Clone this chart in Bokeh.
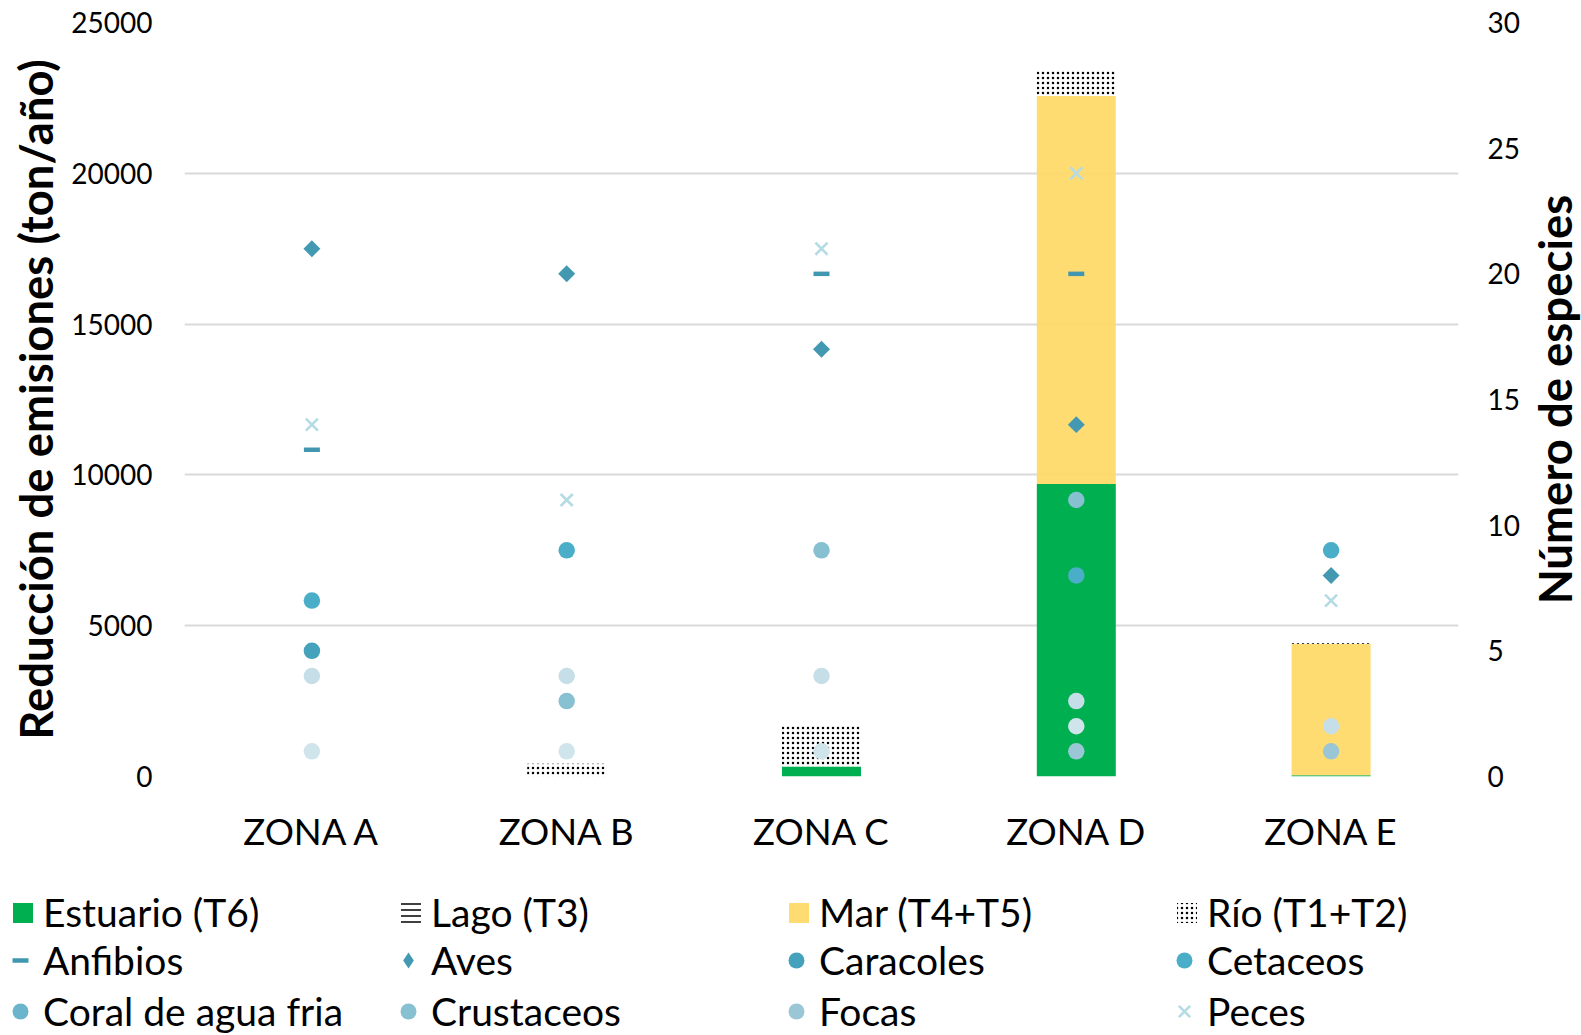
import math
from bokeh.plotting import figure
from bokeh.layouts import row
from bokeh.models import (Range1d, LinearAxis, FixedTicker, Legend, LegendItem,
                          FactorRange, ColumnDataSource, Title)
from bokeh.embed import file_html
from bokeh.resources import INLINE

# ---------------- data ----------------
zonas = ["ZONA A", "ZONA B", "ZONA C", "ZONA D", "ZONA E"]

# emission reduction (ton/año), stacked bars
estuario = [0, 0, 330, 9700, 40]
lago = [0, 0, 0, 0, 0]
mar = [0, 0, 0, 12860, 4350]
rio = [0, 420, 1380, 830, 25]

# number of species (right axis)
nan = float("nan")
anfibios = [13, nan, 20, 20, nan]
aves = [21, 20, 17, 14, 8]
caracoles = [5, nan, nan, nan, nan]
cetaceos = [7, 9, nan, 8, 9]
coral = [nan, nan, nan, nan, nan]
crustaceos = [nan, 3, 9, 11, nan]
focas = [nan, nan, nan, 1, 1]
peces = [14, 11, 21, 24, 7]
otras_1 = [4, 4, 4, 3, 2]
otras_2 = [1, 1, 1, 2, nan]

left_ticks = [0, 5000, 10000, 15000, 20000, 25000]
right_ticks = [0, 5, 10, 15, 20, 25, 30]

FONT = "Lato"

# ---------------- styles ----------------
bar_names = ["estuario", "lago", "mar", "rio"]
bar_labels = ["Estuario (T6)", "Lago (T3)", "Mar (T4+T5)", "Río (T1+T2)"]
bar_style = dict(
    fill_color=["#00b050", "white", "#ffd966", "white"],
    fill_alpha=[1, 1, 0.93, 1],
    hatch_pattern=[None, "horizontal_line", None, "dot"],
    hatch_scale=[1, 6, 1, 5],
    hatch_weight=[1, 1.5, 1, 2.2],
)
sp_series = [
    ("Anfibios", anfibios, dict(marker="dash", size=16, line_color="#4197b0", line_width=4.5)),
    ("Aves", aves, dict(marker="square", angle=math.pi / 4, size=12, fill_color="#4399b2", line_color=None)),
    ("Caracoles", caracoles, dict(marker="circle", size=16.5, fill_color="#44a2bc", line_color=None)),
    ("Cetaceos", cetaceos, dict(marker="circle", size=16.5, fill_color="#4aaec8", line_color=None)),
    ("Coral de agua fria", coral, dict(marker="circle", size=16.5, fill_color="#6ab5cc", line_color=None)),
    ("Crustaceos", crustaceos, dict(marker="circle", size=16.5, fill_color="#86c0d1", line_color=None)),
    ("Focas", focas, dict(marker="circle", size=16.5, fill_color="#9ac6d5", line_color=None)),
    ("Peces", peces, dict(marker="x", size=17, line_color="#b5dbe5", line_width=2.6)),
]
extra_series = [
    (otras_1, dict(marker="circle", size=16.5, fill_color="#c5dee7", line_color=None)),
    (otras_2, dict(marker="circle", size=16.5, fill_color="#d0e4eb", line_color=None)),
]

TOP, FRAME_H, BOTTOM = 22, 754, 88

# ---------------- main figure ----------------
p = figure(x_range=FactorRange(factors=zonas, range_padding=0),
           y_range=Range1d(0, 25000),
           frame_width=1274, frame_height=FRAME_H,
           min_border_left=184, min_border_right=66,
           min_border_top=TOP, min_border_bottom=BOTTOM,
           output_backend="svg", toolbar_location=None)
p.extra_y_ranges = {"sp": Range1d(0, 30)}
p.outline_line_color = None

src = ColumnDataSource(dict(zonas=zonas, estuario=estuario, lago=lago, mar=mar, rio=rio))
p.vbar_stack(bar_names, x="zonas", width=0.31, source=src, line_color=None,
             hatch_color="black", **bar_style)

for name, vals, st in sp_series:
    p.scatter("x", "y", source=ColumnDataSource(dict(x=zonas, y=vals)), y_range_name="sp", **st)
for vals, st in extra_series:
    p.scatter("x", "y", source=ColumnDataSource(dict(x=zonas, y=vals)), y_range_name="sp", **st)

p.xgrid.visible = False
p.ygrid.ticker = FixedTicker(ticks=left_ticks)
p.ygrid.grid_line_color = "#d9d9d9"
p.ygrid.grid_line_width = 2

yl = p.yaxis[0]
yl.ticker = FixedTicker(ticks=left_ticks)
yl.axis_label = "Reducción de emisiones (ton/año)"
yl.axis_label_standoff = 5
yl.major_label_standoff = 26
yl.axis_label_text_font = FONT
yl.axis_label_text_font_style = "bold"
yl.axis_label_text_font_size = "45.5px"
yl.axis_label_text_color = "black"

yr = LinearAxis(y_range_name="sp", ticker=FixedTicker(ticks=right_ticks))
yr.major_label_standoff = 23
p.add_layout(yr, "right")

for ax in (yl, yr):
    ax.major_label_text_font = FONT
    ax.major_label_text_font_size = "28px"
    ax.major_label_text_color = "black"

xa = p.xaxis[0]
xa.major_label_text_font = FONT
xa.major_label_text_font_size = "36.5px"
xa.major_label_text_color = "black"
xa.major_label_standoff = 26

for ax in (yl, yr, xa):
    ax.axis_line_color = None
    ax.major_tick_line_color = None
    ax.minor_tick_line_color = None

# right-hand axis title (reads bottom-to-top, like the left one)
rt = figure(frame_width=1, frame_height=FRAME_H,
            min_border_left=0, min_border_right=0,
            min_border_top=TOP, min_border_bottom=BOTTOM,
            x_range=Range1d(0, 1), y_range=Range1d(0, 1),
            x_axis_location=None, y_axis_location=None,
            output_backend="svg", toolbar_location=None)
rt.grid.visible = False
rt.outline_line_color = None
rt.background_fill_alpha = 0
rt.border_fill_alpha = 0
rt.add_layout(Title(text="Número de especies", align="center", standoff=0,
                    text_font=FONT, text_font_size="45.5px", text_font_style="bold",
                    text_color="black"), "left")

# ---------------- legend figure ----------------
lg = figure(width=1570, height=171, x_range=Range1d(0, 1), y_range=Range1d(0, 1),
            min_border=0, x_axis_location=None, y_axis_location=None,
            output_backend="svg", toolbar_location=None)
lg.grid.visible = False
lg.outline_line_color = None

items_a = []
for i, lab in enumerate(bar_labels):
    r = lg.vbar(x=[10], top=[10], bottom=[9], width=0.5, line_color=None, hatch_color="black",
                **{k: v[i] for k, v in bar_style.items()})
    items_a.append(LegendItem(label=lab, renderers=[r]))
items_b = []
for name, vals, st in sp_series:
    st = dict(st)
    if name == "Aves":
        st.pop("angle")
        st["marker"] = "diamond"
    r = lg.scatter(x=[10], y=[10], **st)
    items_b.append(LegendItem(label=name, renderers=[r]))

common = dict(ncols=4, orientation="horizontal", padding=0, margin=0, spacing=5,
              label_height=30, label_text_font=FONT, label_text_font_size="39px",
              label_text_color="black", border_line_color=None, background_fill_alpha=0)
leg_a = Legend(items=items_a, location=(10, 100),
               glyph_width=25, glyph_height=25, label_standoff=8, label_width=350, **common)
leg_b = Legend(items=items_b, location=(0, 1),
               glyph_width=40, glyph_height=40, label_standoff=3, label_width=340, **common)
lg.add_layout(leg_a, "center")
lg.add_layout(leg_b, "center")

open("out.html", "w").write(file_html([row(p, rt), lg], INLINE))
